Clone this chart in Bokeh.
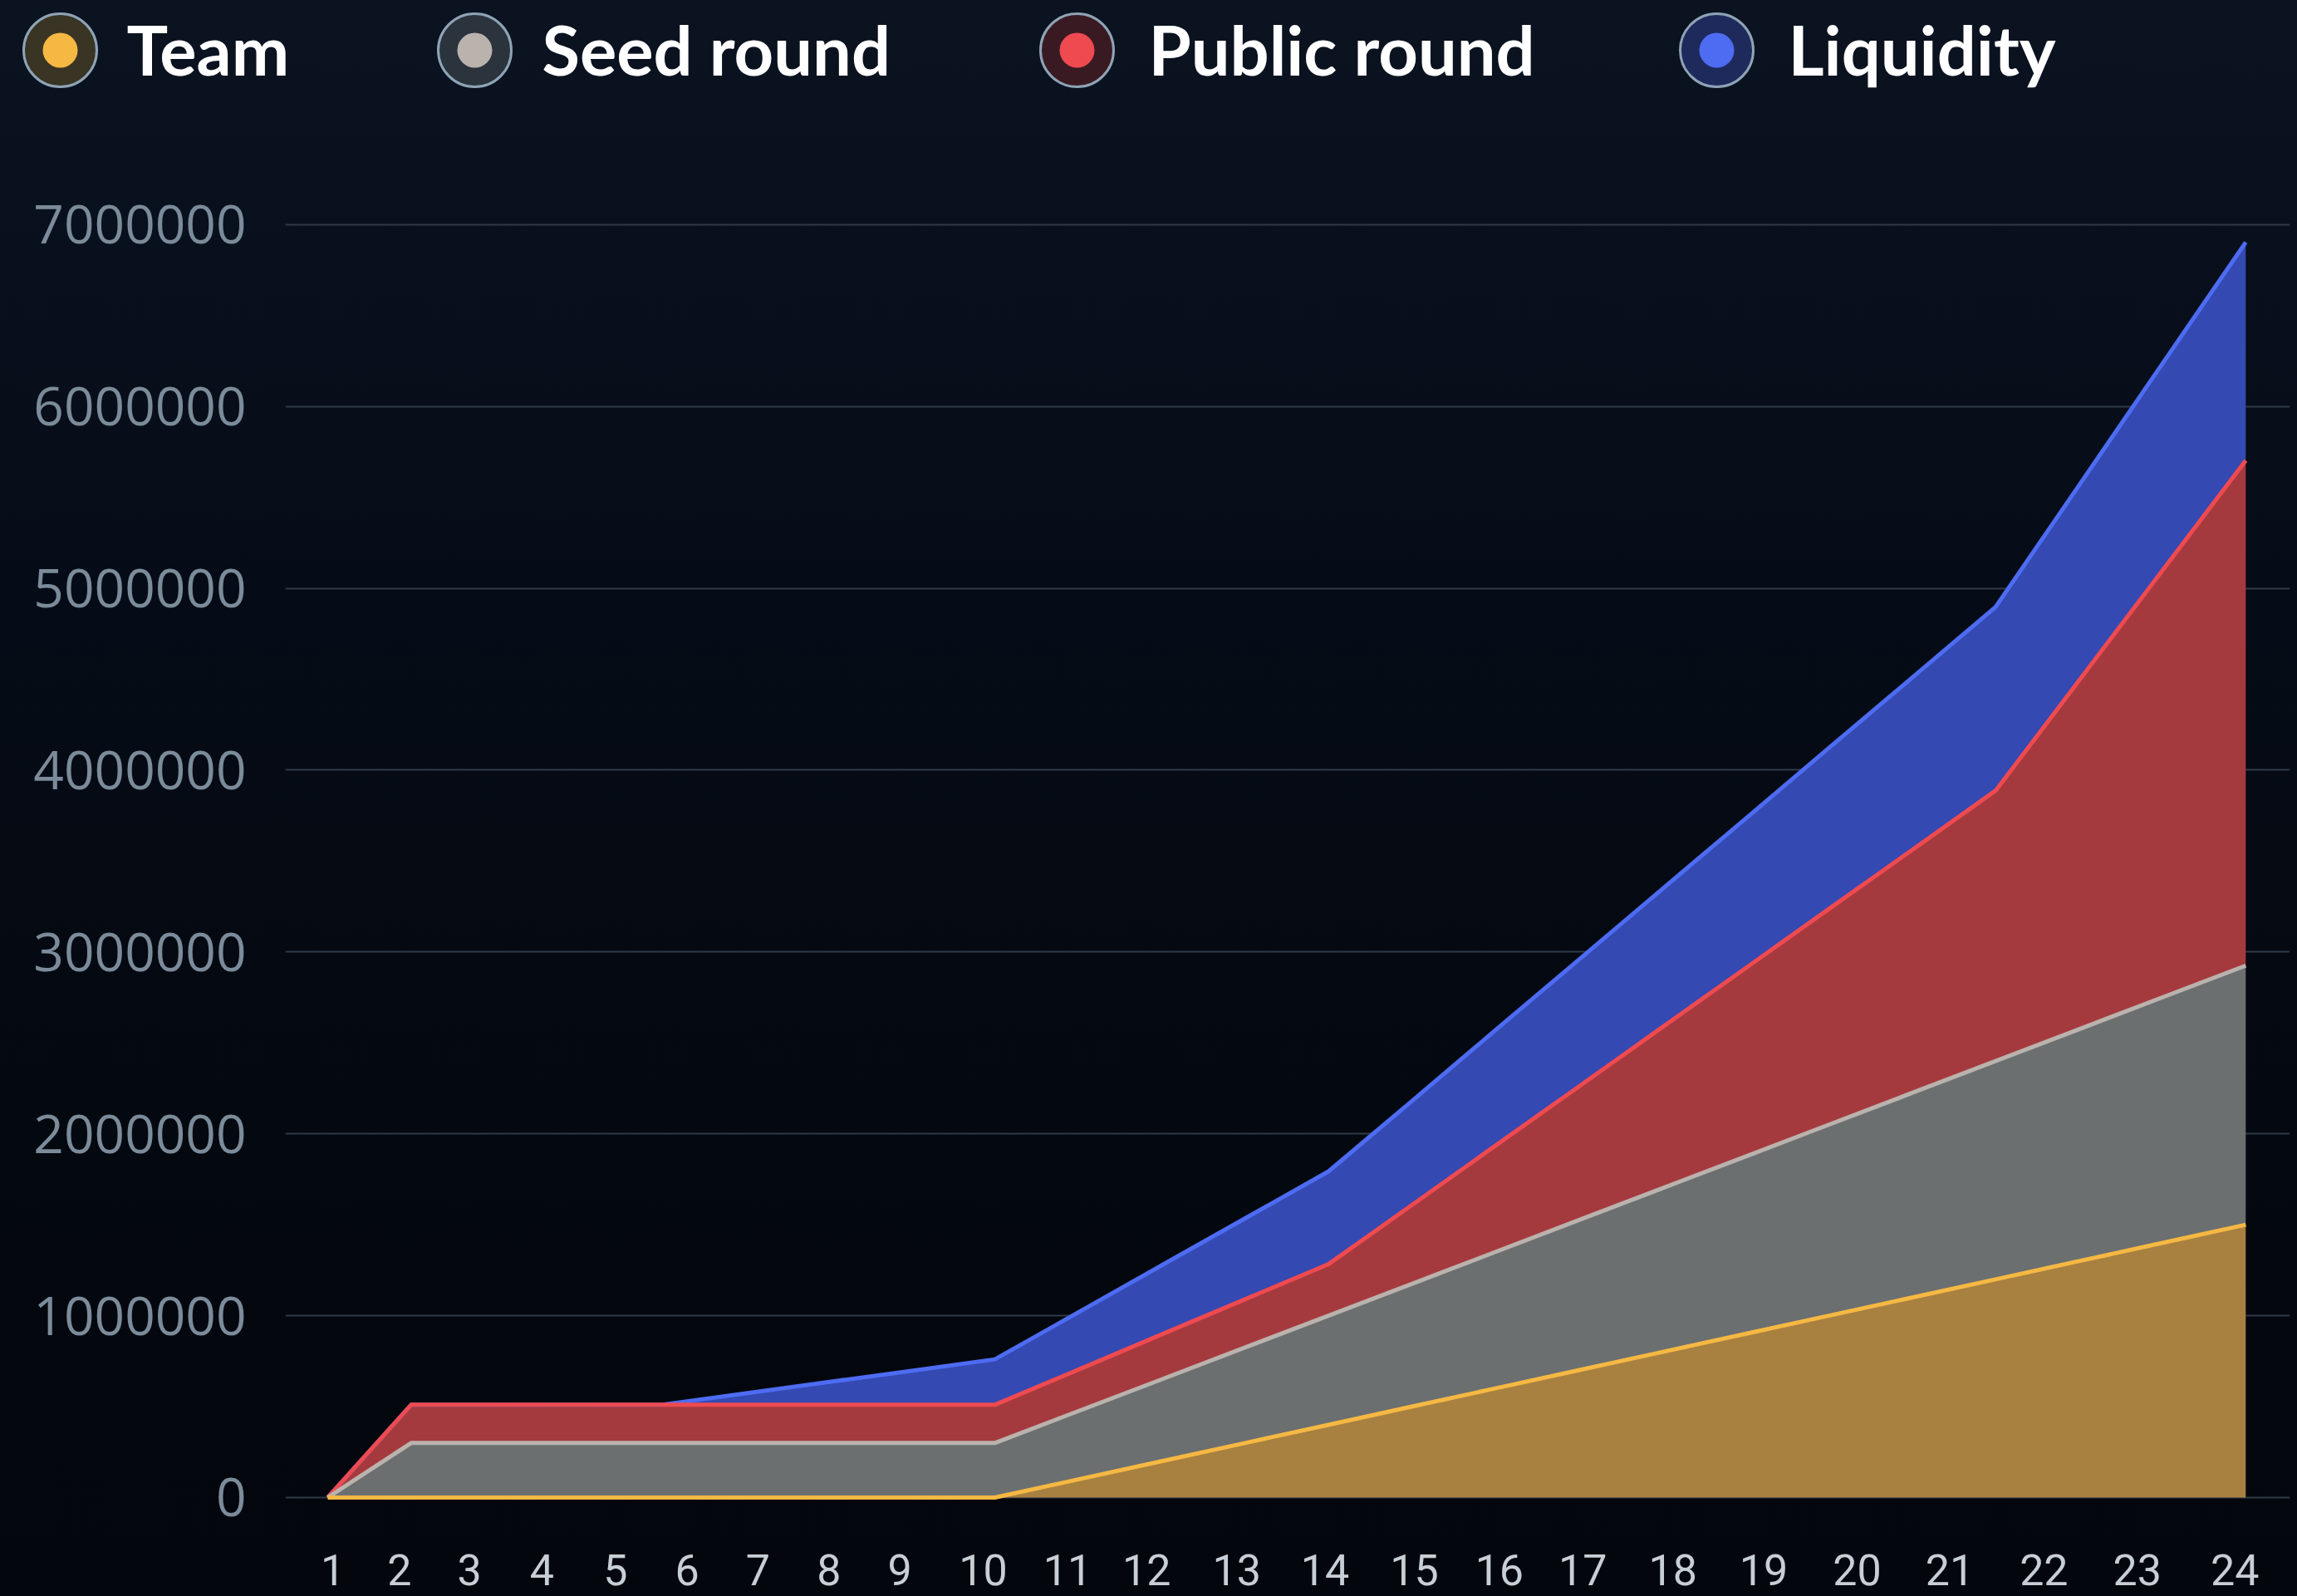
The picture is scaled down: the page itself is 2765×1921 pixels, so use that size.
from bokeh.plotting import figure
from bokeh.models import ColumnDataSource, Range1d, FixedTicker, CustomJSTickFormatter
from bokeh.transform import stack
from bokeh.embed import file_html
from bokeh.resources import INLINE
from bokeh.core.properties import value

# ---------------- data ----------------
months = list(range(1, 25))
team = [0, 0, 0, 0, 0, 0, 0, 0, 0, 100000, 200000, 300000, 400000, 500000, 600000,
        700000, 800000, 900000, 1000000, 1100000, 1200000, 1300000, 1400000, 1500000]
seed = [0, 300000, 300000, 300000, 300000, 300000, 300000, 300000, 300000, 375000,
        450000, 525000, 600000, 675000, 750000, 825000, 900000, 975000, 1050000,
        1125000, 1200000, 1275000, 1350000, 1425000]
public = [0, 210000, 210000, 210000, 210000, 210000, 210000, 210000, 210000, 228000,
          247000, 265000, 283000, 433000, 584000, 734000, 885000, 1035000, 1186000,
          1336000, 1487000, 1917000, 2347000, 2777000]
liquidity = [0, 0, 0, 0, 0, 62000, 125000, 187000, 250000, 315000, 380000, 445000,
             510000, 572000, 635000, 697000, 760000, 822000, 885000, 947000, 1010000,
             1073000, 1137000, 1200000]

series_names = ["Team", "Seed round", "Public round", "Liquidity"]
x_tick_labels = [str(m) for m in months]
y_ticks = [0, 1000000, 2000000, 3000000, 4000000, 5000000, 6000000, 7000000]

# ---------------- layout / style ----------------
# label positions along the axis (the labels are not evenly spaced in the source)
x_tick_pos = [1.06, 1.86, 2.70, 3.57, 4.45, 5.31, 6.16, 7.01, 7.86, 8.86, 9.87, 10.82,
              11.90, 12.96, 14.03, 15.05, 16.05, 17.13, 18.22, 19.34, 20.45, 21.58,
              22.70, 23.87]

W = 2765
LEG_H = 130                 # legend strip height
H = 1921 - LEG_H            # main chart height
FL, FR = 343, 2756          # frame left / right (canvas px)
FT, FB = 259 - LEG_H, 1806 - LEG_H
X0, X1 = 0.492, 24.53
Y0, Y1 = -18300, 7049000

BG_CSS = "linear-gradient(180deg,#0b1321 0px,#060c17 700px,#04080f 1400px,#03060c 1921px)"
fill_colors = ["#a88040", "#6b6f70", "#a53a3e", "#3449b2"]
line_colors = ["#f5b843", "#bab2ad", "#ee4a50", "#4d6cf2"]
ring_fill = ["#3a3425", "#2b333d", "#3a1a22", "#1f2a5c"]
ring_line = "#8ea4b6"

keys = ["team", "seed", "public", "liquidity"]
source = ColumnDataSource(dict(x=months, team=team, seed=seed, public=public,
                               liquidity=liquidity))

# ---------------- main chart ----------------
p = figure(width=W, height=H,
           x_range=Range1d(X0, X1), y_range=Range1d(Y0, Y1),
           output_backend="svg", toolbar_location=None,
           min_border_left=FL, min_border_right=W - FR,
           min_border_top=FT, min_border_bottom=H - FB,
           background_fill_color=None, border_fill_color=None,
           outline_line_color=None)

p.varea_stack(stackers=keys, x="x", color=fill_colors, source=source)

# lines: top series first so lower series' lines sit on top
for i in reversed(range(len(keys))):
    p.line(x="x", y=stack(*keys[:i + 1]), source=source,
           line_color=line_colors[i], line_width=5, line_join="round")

p.xgrid.grid_line_color = None
p.ygrid.grid_line_color = "#2f3a47"
p.ygrid.grid_line_width = 2
p.yaxis.ticker = FixedTicker(ticks=y_ticks)
p.yaxis.formatter = CustomJSTickFormatter(code="return tick.toFixed(0)")
p.xaxis.ticker = FixedTicker(ticks=x_tick_pos)
p.xaxis.formatter = CustomJSTickFormatter(args=dict(labels=x_tick_labels),
                                          code="return labels[index]")

for ax in (p.xaxis, p.yaxis):
    ax.axis_line_color = None
    ax.major_tick_line_color = None
    ax.minor_tick_line_color = None
    ax.major_tick_out = 0
    ax.major_tick_in = 0

p.yaxis.major_label_text_font = "Open Sans"
p.yaxis.major_label_text_font_size = "64px"
p.yaxis.major_label_text_color = "#7b8b99"
p.yaxis.major_label_standoff = 47

p.xaxis.major_label_text_font = "Roboto"
p.xaxis.major_label_text_font_size = "52px"
p.xaxis.major_label_text_color = "#c8ced6"
p.xaxis.major_label_standoff = 64

# ---------------- legend strip (its own figure, placed above) ----------------
legend_marker_x = [72, 571, 1296, 2066]
legend_text_x = [152, 652, 1382, 2152]
lsrc = ColumnDataSource(dict(mx=legend_marker_x, tx=legend_text_x, name=series_names,
                             dot=line_colors, ring=ring_fill))

lg = figure(width=W, height=LEG_H, x_range=Range1d(0, W), y_range=Range1d(LEG_H, 0),
            output_backend="svg", toolbar_location=None, min_border=0,
            x_axis_type=None, y_axis_type=None,
            background_fill_color=None, border_fill_color=None, outline_line_color=None)
lg.grid.visible = False
lg.scatter(x="mx", y=60, source=lsrc, marker="circle", size=88,
           fill_color="ring", line_color=ring_line, line_width=3)
lg.scatter(x="mx", y=60, source=lsrc, marker="circle", size=42,
           fill_color="dot", line_color=None)
lg.text(x="tx", y=58, text="name", source=lsrc, text_font=value("Lato"),
        text_font_size="83px", text_font_style="bold", text_color="#ffffff",
        text_align="left", text_baseline="middle")

html = file_html([lg, p], INLINE)
html = html.replace(
    "</head>",
    "<style>html{background:%s;}body{margin:0;padding:0;background:transparent;"
    "line-height:0;font-size:0;}</style></head>" % BG_CSS,
    1)
open("out.html", "w").write(html)
